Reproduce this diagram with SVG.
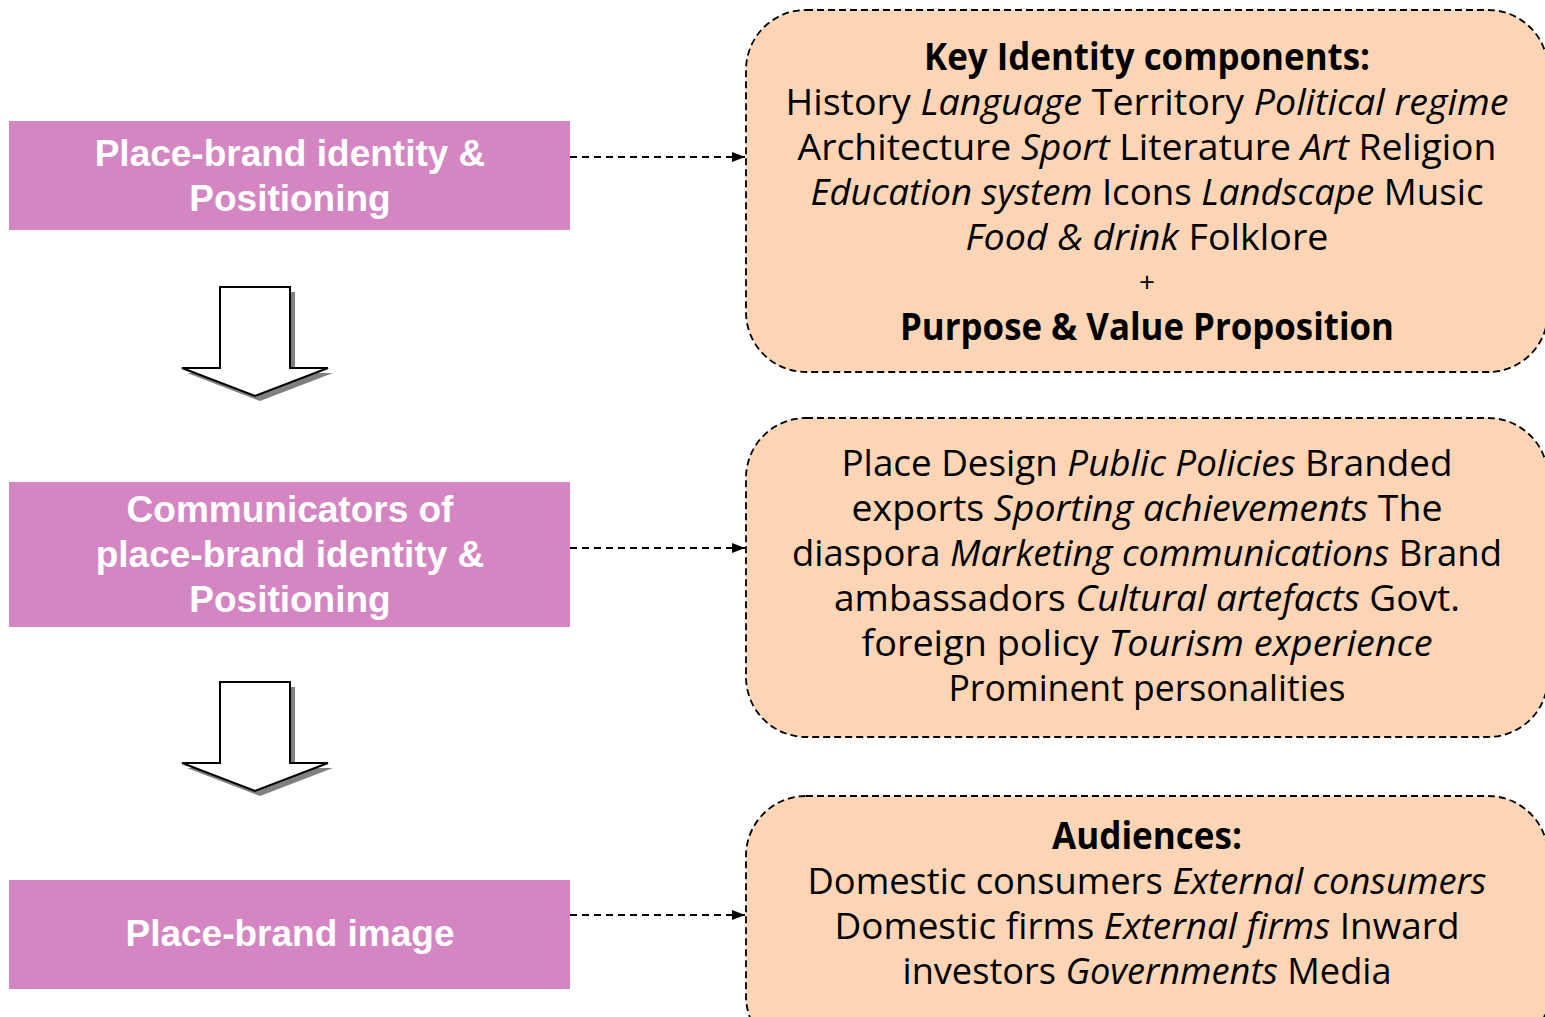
<svg xmlns="http://www.w3.org/2000/svg" width="1545" height="1017" viewBox="0 0 1545 1017">
<style>
.lbox{fill:#D486C3;}
.ltxt{font-family:"Liberation Sans",Arial,sans-serif;font-weight:bold;font-size:37px;fill:#ffffff;text-anchor:middle;}
.rbox{fill:#FBD5B5;stroke:#000;stroke-width:1.8;stroke-dasharray:7,4;}
.rtxt{font-family:"Open Sans","Noto Sans",sans-serif;font-size:37px;fill:#000;text-anchor:middle;}
.b{font-weight:bold;}
.i{font-style:italic;}
.conn{stroke:#000;stroke-width:1.8;stroke-dasharray:7,5;fill:none;}
.barrow{fill:#ffffff;stroke:#000;stroke-width:2;}
.bshadow{fill:#808080;}
</style>
<defs>
<marker id="ah" markerWidth="13" markerHeight="10" refX="13" refY="5" orient="auto" markerUnits="userSpaceOnUse">
<path d="M0,0 L13,5 L0,10 Z" fill="#000"/>
</marker>
</defs>
<rect width="1545" height="1017" fill="#ffffff"/>

<g id="block-arrows">
<polygon class="bshadow" points="225,292 295,292 295,373 333,373 260,401 187,373 225,373"/>
<polygon class="barrow" points="220,287 290,287 290,368 328,368 255,396 182,368 220,368"/>
<polygon class="bshadow" points="225,687 295,687 295,768 333,768 260,796 187,768 225,768"/>
<polygon class="barrow" points="220,682 290,682 290,763 328,763 255,791 182,763 220,763"/>
</g>

<g id="connectors">
<line class="conn" x1="570" y1="157" x2="745" y2="157" marker-end="url(#ah)"/>
<line class="conn" x1="570" y1="548" x2="745" y2="548" marker-end="url(#ah)"/>
<line class="conn" x1="570" y1="915" x2="745" y2="915" marker-end="url(#ah)"/>
</g>

<g id="identity">
<rect class="lbox" x="9" y="121" width="561" height="109"/>
<text class="ltxt" x="290" y="166">Place-brand identity &amp;</text>
<text class="ltxt" x="290" y="211">Positioning</text>
</g>

<g id="communicators">
<rect class="lbox" x="9" y="482" width="561" height="145"/>
<text class="ltxt" x="290" y="522">Communicators of</text>
<text class="ltxt" x="290" y="567">place-brand identity &amp;</text>
<text class="ltxt" x="290" y="612">Positioning</text>
</g>

<g id="image">
<rect class="lbox" x="9" y="880" width="561" height="109"/>
<text class="ltxt" x="290" y="946">Place-brand image</text>
</g>

<g id="key-identity">
<rect class="rbox" x="746" y="10" width="802" height="362" rx="60" ry="60"/>
<text class="rtxt b" x="1147" y="70" textLength="446" lengthAdjust="spacingAndGlyphs">Key Identity components:</text>
<text class="rtxt" x="1147" y="115" textLength="723" lengthAdjust="spacingAndGlyphs">History <tspan class="i">Language</tspan> Territory <tspan class="i">Political regime</tspan></text>
<text class="rtxt" x="1147" y="160" textLength="699" lengthAdjust="spacingAndGlyphs">Architecture <tspan class="i">Sport</tspan> Literature <tspan class="i">Art</tspan> Religion</text>
<text class="rtxt" x="1147" y="205" textLength="673" lengthAdjust="spacingAndGlyphs"><tspan class="i">Education system</tspan> Icons <tspan class="i">Landscape</tspan> Music</text>
<text class="rtxt" x="1147" y="250" textLength="363" lengthAdjust="spacingAndGlyphs"><tspan class="i">Food &amp; drink</tspan> Folklore</text>
<text class="rtxt" x="1147" y="292" style="font-size:28px">+</text>
<text class="rtxt b" x="1147" y="340" textLength="494" lengthAdjust="spacingAndGlyphs">Purpose &amp; Value Proposition</text>
</g>

<g id="communicator-list">
<rect class="rbox" x="746" y="418" width="802" height="319" rx="60" ry="60"/>
<text class="rtxt" x="1147" y="476" textLength="611" lengthAdjust="spacingAndGlyphs">Place Design <tspan class="i">Public Policies</tspan> Branded</text>
<text class="rtxt" x="1147" y="521" textLength="591" lengthAdjust="spacingAndGlyphs">exports <tspan class="i">Sporting achievements</tspan> The</text>
<text class="rtxt" x="1147" y="566" textLength="710" lengthAdjust="spacingAndGlyphs">diaspora <tspan class="i">Marketing communications</tspan> Brand</text>
<text class="rtxt" x="1147" y="611" textLength="626" lengthAdjust="spacingAndGlyphs">ambassadors <tspan class="i">Cultural artefacts</tspan> Govt.</text>
<text class="rtxt" x="1147" y="656" textLength="571" lengthAdjust="spacingAndGlyphs">foreign policy <tspan class="i">Tourism experience</tspan></text>
<text class="rtxt" x="1147" y="701" textLength="397" lengthAdjust="spacingAndGlyphs">Prominent personalities</text>
</g>

<g id="audiences">
<rect class="rbox" x="746" y="796" width="802" height="260" rx="60" ry="60"/>
<text class="rtxt b" x="1147" y="849" textLength="190" lengthAdjust="spacingAndGlyphs">Audiences:</text>
<text class="rtxt" x="1147" y="894" textLength="679" lengthAdjust="spacingAndGlyphs">Domestic consumers <tspan class="i">External consumers</tspan></text>
<text class="rtxt" x="1147" y="939" textLength="625" lengthAdjust="spacingAndGlyphs">Domestic firms <tspan class="i">External firms</tspan> Inward</text>
<text class="rtxt" x="1147" y="984" textLength="489" lengthAdjust="spacingAndGlyphs">investors <tspan class="i">Governments</tspan> Media</text>
</g>
</svg>
